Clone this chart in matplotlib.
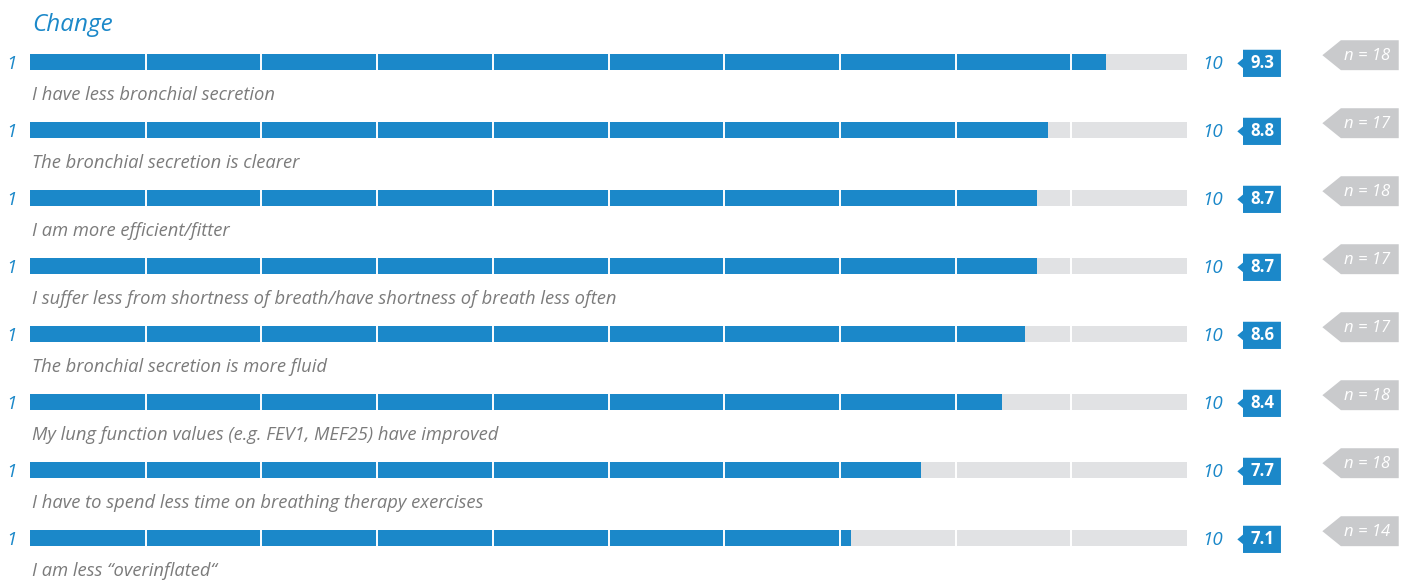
import matplotlib
matplotlib.use('Agg')
import matplotlib.pyplot as plt
from matplotlib.patches import Polygon, Rectangle

plt.rcParams['font.family'] = ['Open Sans', 'DejaVu Sans']

# Datos del grafico
labels = [
    'I have less bronchial secretion',
    'The bronchial secretion is clearer',
    'I am more efficient/fitter',
    'I suffer less from shortness of breath/have shortness of breath less often',
    'The bronchial secretion is more fluid',
    'My lung function values (e.g. FEV1, MEF25) have improved',
    'I have to spend less time on breathing therapy exercises',
    'I am less \u201coverinflated\u201c',
]
values = [9.3, 8.8, 8.7, 8.7, 8.6, 8.4, 7.7, 7.1]
counts = [18, 17, 18, 17, 17, 18, 18, 14]
scale_min, scale_max = 1, 10

BLUE = '#1b88c9'
TRACK = '#e1e2e4'
TAG = '#c9cacc'
TEXT = '#7b7b7b'

fig = plt.figure(figsize=(14.1, 5.8), dpi=100)
ax = fig.add_axes([0, 0, 1, 1])
px = 115.7  # pixeles por unidad
ax.set_xlim(-30 / px, (1410 - 30) / px)
ax.set_ylim((580 - 62) / 68, -62 / 68)
ax.axis('off')

bar_h = 16 / 68
for i, (lab, val, n) in enumerate(zip(labels, values, counts)):
    # Pista gris y barra azul
    ax.add_patch(Rectangle((0, i - bar_h / 2), scale_max, bar_h, color=TRACK, lw=0))
    ax.add_patch(Rectangle((0, i - bar_h / 2), val, bar_h, color=BLUE, lw=0))
    # Separadores blancos
    ax.vlines(range(1, 10), i - bar_h / 2, i + bar_h / 2, color='white', lw=1.4)
    # Extremos de la escala
    ax.text(-0.16, i + 0.03, str(scale_min), color=BLUE, style='italic',
            fontsize=13.5, ha='center', va='center')
    ax.text(10.22, i + 0.03, str(scale_max), color=BLUE, style='italic',
            fontsize=13.5, ha='center', va='center')
    # Etiqueta
    ax.text(0.02, i + 0.48, lab, color=TEXT, style='italic', fontsize=13.2,
            ha='left', va='center')
    # Caja del valor
    yc = i + 0.02
    x0, x1, hh = 10.484, 10.812, 0.2
    tip = 10.435
    ax.add_patch(Polygon([(tip, yc), (x0, yc - 0.07), (x0, yc - hh), (x1, yc - hh),
                          (x1, yc + hh), (x0, yc + hh), (x0, yc + 0.07)],
                         closed=True, color=BLUE, lw=0))
    ax.text((x0 + x1) / 2, yc, f'{val:.1f}', color='white', fontweight='bold',
            fontsize=12, ha='center', va='center')
    # Etiqueta n
    yn = i - 0.1
    t0, b0, b1, nh = 11.17, 11.33, 11.83, 0.22
    ax.add_patch(Polygon([(t0, yn), (b0, yn - nh), (b1, yn - nh), (b1, yn + nh),
                          (b0, yn + nh)], closed=True, color=TAG, lw=0))
    ax.text((b0 + b1) / 2 - 0.02, yn + 0.01, f'n = {n}', color='white', style='italic',
            fontsize=12, ha='center', va='center')

ax.text(0.02, -0.54, 'Change', color=BLUE, style='italic', fontsize=17.5,
        ha='left', va='center')

fig.savefig('out.png', dpi=100)
